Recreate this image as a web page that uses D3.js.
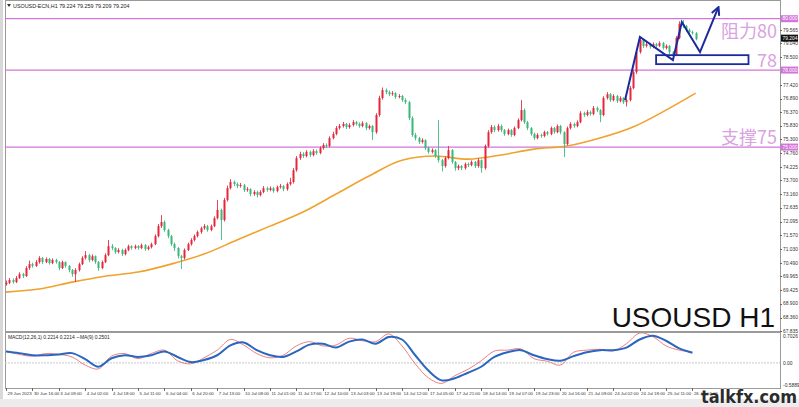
<!DOCTYPE html>
<html><head><meta charset="utf-8">
<script src="https://cdn.jsdelivr.net/npm/d3@7"></script>
<style>body{margin:0;background:#fff}svg{display:block}</style>
</head><body><svg id="c" width="799" height="407"></svg>
<script>
// ---------------- DATA ----------------
const firstOpen = 69.66;
const closes = [69.71,69.82,69.74,69.90,70.05,69.98,70.29,70.44,70.37,70.52,
70.68,70.52,70.64,70.48,70.60,70.52,70.29,70.52,70.37,70.21,
70.05,70.21,70.44,70.68,70.79,70.60,70.75,70.52,70.29,70.52,
70.79,71.14,71.07,70.91,70.99,70.83,70.99,71.14,71.07,71.14,
71.07,71.18,71.03,71.10,71.22,71.53,71.92,72.08,71.77,71.53,
71.22,71.07,70.75,70.68,70.99,71.22,71.38,71.53,71.69,71.84,
71.92,71.77,71.92,72.23,72.55,72.16,72.94,73.40,73.64,73.56,
73.48,73.52,73.33,73.36,73.17,73.25,73.13,73.25,73.40,73.33,
73.40,73.29,73.44,73.48,73.36,73.56,73.64,74.10,74.57,74.73,
74.65,74.81,74.69,74.84,74.77,74.96,75.08,75.04,75.35,75.51,
75.74,75.82,75.90,75.78,75.86,75.97,75.90,75.82,75.93,75.74,
75.82,75.58,76.25,76.91,77.22,77.14,77.06,77.10,76.95,76.99,
76.83,76.75,76.13,75.47,75.35,75.20,75.27,74.96,74.81,74.88,
74.65,74.49,74.26,74.57,74.88,74.42,74.18,74.26,74.18,74.34,
74.30,74.42,74.26,74.49,74.18,75.04,75.58,75.78,75.66,75.82,
75.66,75.51,75.66,75.47,75.74,76.05,76.44,75.97,75.74,75.51,
75.35,75.47,75.43,75.58,75.51,75.74,75.58,75.82,75.58,75.12,
75.74,75.90,75.82,75.97,76.32,76.25,76.36,76.29,76.52,76.44,
76.25,76.91,77.06,76.83,76.99,76.79,76.91,76.75,76.83,77.30,
77.92,78.70,79.17,78.94,79.01,78.90,79.01,78.94,79.05,78.86,
78.94,78.70,78.55,79.25,79.79,79.71,79.56,79.48,79.44,79.20];
const highs = [69.80,69.90,69.88,69.98,70.12,70.10,70.36,70.58,70.50,70.60,
70.75,70.72,70.70,70.68,70.66,70.65,70.56,70.58,70.55,70.40,
70.25,70.28,70.50,70.75,70.95,70.84,70.82,70.78,70.56,70.58,
70.86,71.38,71.22,71.10,71.06,71.04,71.05,71.20,71.18,71.20,
71.18,71.24,71.22,71.16,71.28,71.60,72.00,72.35,72.14,71.82,
71.58,71.28,71.10,70.80,71.05,71.28,71.45,71.60,71.75,71.90,
72.00,71.97,71.98,72.30,72.94,72.60,73.02,73.50,73.75,73.70,
73.62,73.60,73.56,73.44,73.40,73.32,73.30,73.32,73.48,73.46,
73.47,73.45,73.50,73.56,73.52,73.62,73.80,74.18,74.65,74.82,
74.80,74.88,74.86,74.92,74.90,75.03,75.15,75.14,75.42,75.60,
75.82,75.90,75.98,75.94,75.93,76.05,76.02,75.96,76.00,75.98,
75.88,75.86,76.32,77.00,77.32,77.28,77.20,77.18,77.14,77.06,
77.03,76.90,76.80,76.20,75.55,75.40,75.34,75.30,75.02,74.95,
74.92,76.05,74.54,74.64,75.04,74.92,74.46,74.32,74.30,74.40,
74.40,74.48,74.46,74.56,74.52,75.10,75.66,75.86,75.84,75.90,
75.88,75.70,75.72,75.70,75.80,76.12,76.83,76.50,76.02,75.78,
75.56,75.54,75.52,75.64,75.63,75.80,75.78,75.88,75.86,75.62,
75.80,75.97,75.95,76.04,76.40,76.38,76.44,76.42,76.60,76.58,
76.48,76.98,77.14,77.10,77.06,77.03,76.98,76.95,76.90,77.38,
78.00,78.80,79.26,79.20,79.10,79.06,79.08,79.06,79.12,79.09,
79.00,78.98,78.74,79.32,79.90,79.95,79.76,79.62,79.54,79.48];
const lows = [69.60,69.66,69.68,69.70,69.86,69.90,69.94,70.22,70.30,70.33,
70.46,70.45,70.48,70.42,70.44,70.46,70.20,70.25,70.30,70.12,
69.95,69.75,70.15,70.40,70.62,70.52,70.55,70.45,70.18,70.24,
70.48,70.75,70.98,70.84,70.86,70.76,70.78,70.94,71.00,71.02,
71.00,71.02,70.96,70.98,71.05,71.18,71.48,71.85,71.70,71.45,
71.15,70.95,70.66,70.25,70.62,70.95,71.16,71.32,71.48,71.62,
71.78,71.70,71.72,71.88,72.18,71.38,72.10,72.88,73.35,73.48,
73.40,73.42,73.25,73.26,73.08,73.10,73.04,73.08,73.20,73.26,
73.28,73.22,73.24,73.38,73.28,73.30,73.50,73.58,74.04,74.50,
74.58,74.60,74.62,74.64,74.70,74.72,74.90,74.96,74.99,75.30,
75.46,75.68,75.76,75.70,75.72,75.80,75.84,75.75,75.77,75.66,
75.68,75.27,75.52,76.18,76.85,77.06,76.98,77.00,76.88,76.90,
76.76,76.68,76.05,75.40,75.26,75.12,75.14,74.88,74.74,74.75,
74.58,74.40,74.05,74.20,74.52,74.35,74.08,74.10,74.10,74.12,
74.22,74.25,74.18,74.20,74.00,74.12,74.98,75.52,75.58,75.60,
75.58,75.44,75.46,75.40,75.42,75.70,76.00,75.90,75.66,75.44,
75.28,75.30,75.36,75.38,75.45,75.46,75.52,75.54,75.50,74.61,
75.06,75.68,75.75,75.77,75.92,76.18,76.20,76.22,76.24,76.36,
75.97,76.20,76.85,76.76,76.78,76.72,76.74,76.68,76.58,76.78,
77.25,77.85,78.64,78.86,78.88,78.83,78.85,78.88,78.90,78.80,
78.80,78.62,78.40,78.50,79.20,79.64,79.48,79.42,79.38,79.16];

const maIndex  = [0,10,20,30,40,50,60,70,80,90,100,110,120,130,140,150,160,170,180,190,200,209];
const maValues = [69.35,69.47,69.74,69.97,70.13,70.44,70.83,71.38,71.92,72.47,73.17,73.87,74.49,74.65,74.53,74.69,74.92,75.04,75.35,75.78,76.44,77.10];

const macdStep = 4;
const macdMain = [0.27,0.23,0.18,0.18,0.20,0.23,0.09,-0.09,0.11,0.18,0.14,0.18,0.27,0.14,0.02,0.07,0.18,0.41,0.48,0.30,0.18,0.14,0.27,0.43,0.45,0.36,0.50,0.55,0.45,0.61,0.55,0.18,-0.18,-0.41,-0.36,-0.23,-0.09,0.14,0.25,0.30,0.18,0.09,0.05,0.16,0.25,0.30,0.30,0.36,0.55,0.64,0.52,0.34,0.24];
const macdSignal = [0.28,0.20,0.16,0.22,0.20,0.14,-0.05,-0.14,0.16,0.22,0.10,0.22,0.30,0.05,-0.02,0.12,0.30,0.55,0.42,0.22,0.12,0.18,0.40,0.50,0.40,0.42,0.58,0.52,0.50,0.68,0.40,-0.02,-0.35,-0.48,-0.30,-0.15,0.05,0.28,0.30,0.33,0.10,0.04,-0.05,0.25,0.30,0.32,0.28,0.45,0.70,0.62,0.40,0.30,0.25];

const timeLabelStep = 8;
const timeLabels = ["29 Jun 2023","30 Jun 16:00","3 Jul 09:00","4 Jul 02:00","4 Jul 18:00","5 Jul 11:00","6 Jul 04:00","6 Jul 20:00","7 Jul 13:00","10 Jul 08:00","11 Jul 01:00","11 Jul 17:00","12 Jul 10:00","13 Jul 03:00","13 Jul 19:00","14 Jul 12:00","17 Jul 05:00","17 Jul 21:00","18 Jul 14:00","19 Jul 07:00","19 Jul 23:00","20 Jul 16:00","21 Jul 09:00","24 Jul 02:00","24 Jul 18:00","25 Jul 11:00","26 Jul 04:00"];

const priceTicks = [79.565,79.040,78.500,77.420,76.890,76.370,75.830,75.300,74.760,74.225,73.700,73.160,72.635,72.095,71.570,71.030,70.490,69.965,69.425,68.900,68.360,67.835];
const macdTicks = [0.7026, 0.00, -0.5889];
const macdTickLabels = ["0.7026","0.00","-0.5889"];

const levels = [80.0, 78.0, 75.0];
const levelTags = ["80.000","78.000","75.000"];
const levelTexts = ["阻力80","78","支撑75"];
const lastPrice = 79.204;

// blue hand-drawn forecast path (bar index, price)
const arrowIdx = [187.6,192.1,202.1,204.8,210.3,215.8];
const arrowPrice = [76.83,79.29,78.39,79.87,78.70,80.42];
const boxIdx = [197, 225];
const boxPrice = [78.58, 78.23];

// ---------------- LAYOUT ----------------
const svg = d3.select("#c");
const L = 5, R = 780, T = 1, MB = 331, MT = 333, B = 388;
const x = d3.scaleLinear().domain([0, closes.length - 1]).range([6, 695.7]);
const y = d3.scaleLinear().domain([67.835, 80.69]).range([MB, T]);
const ym = d3.scaleLinear().domain([-0.5889, 0.7026]).range([B, MT]);

const UP = "#e5263a", DN = "#38b878", PINK = "#d276da", LAV = "#d9a2e0", BLUE = "#1c2a9c";
const AXF = "'Liberation Sans',Arial,sans-serif";
const FS = 4.9;

svg.append("rect").attr("x",0).attr("y",0).attr("width",799).attr("height",407).attr("fill","#fff");
svg.append("rect").attr("x",0).attr("y",0).attr("width",3).attr("height",399).attr("fill","#d8d8d8");
svg.append("rect").attr("x",0).attr("y",399).attr("width",799).attr("height",8).attr("fill","#ececec");

svg.append("clipPath").attr("id","mainclip").append("rect").attr("x",L).attr("y",T).attr("width",R-L).attr("height",MB-T);
svg.append("clipPath").attr("id","macdclip").append("rect").attr("x",L).attr("y",MT).attr("width",R-L).attr("height",B-MT);

svg.append("rect").attr("x",L+0.5).attr("y",T-0.5).attr("width",R-L).attr("height",B-T+1).attr("fill","none").attr("stroke","#9a9a9a");
svg.append("line").attr("x1",L).attr("x2",R).attr("y1",MB+0.5).attr("y2",MB+0.5).attr("stroke","#9a9a9a");
svg.append("line").attr("x1",L).attr("x2",R).attr("y1",MT-0.5).attr("y2",MT-0.5).attr("stroke","#9a9a9a");

const main = svg.append("g").attr("clip-path","url(#mainclip)");

main.selectAll("line.lvl").data(levels).join("line").attr("class","lvl")
  .attr("x1",L).attr("x2",R).attr("y1",d=>y(d)).attr("y2",d=>y(d))
  .attr("stroke",PINK).attr("stroke-width",1.2);

main.append("path").datum(maIndex.map((d,i)=>[d,maValues[i]]))
  .attr("fill","none").attr("stroke","#f0a22c").attr("stroke-width",1.6)
  .attr("d", d3.line().x(d=>x(d[0])).y(d=>y(d[1])).curve(d3.curveMonotoneX));

const bars = closes.map((c,i)=>{
  const o = i===0 ? firstOpen : closes[i-1];
  return {i, o, c, h: Math.max(highs[i], o, c), l: Math.min(lows[i], o, c)};
});
const cg = main.append("g");
cg.selectAll("line.wick").data(bars).join("line").attr("class","wick")
  .attr("x1",d=>Math.round(x(d.i))+0.5).attr("x2",d=>Math.round(x(d.i))+0.5)
  .attr("y1",d=>y(d.h)).attr("y2",d=>y(d.l))
  .attr("stroke",d=>d.c>=d.o?UP:DN).attr("stroke-width",1).attr("opacity",0.85);
cg.selectAll("rect.body").data(bars).join("rect").attr("class","body")
  .attr("x",d=>Math.round(x(d.i))-0.5).attr("width",2)
  .attr("y",d=>y(Math.max(d.o,d.c)))
  .attr("height",d=>Math.max(1, Math.abs(y(d.o)-y(d.c))))
  .attr("fill",d=>d.c>=d.o?UP:DN);

const defs = svg.append("defs");
defs.append("marker").attr("id","ah").attr("viewBox","0 0 10 10").attr("refX",8).attr("refY",5)
  .attr("markerWidth",5).attr("markerHeight",5).attr("orient","auto")
  .append("path").attr("d","M1,1 L9,5 L1,9").attr("fill","none").attr("stroke",BLUE).attr("stroke-width",2);
svg.append("rect")
  .attr("x",x(boxIdx[0])).attr("y",y(boxPrice[0]))
  .attr("width",x(boxIdx[1])-x(boxIdx[0])).attr("height",y(boxPrice[1])-y(boxPrice[0]))
  .attr("fill","#fff").attr("fill-opacity",0.9).attr("stroke",BLUE).attr("stroke-width",1.8);
svg.append("path").datum(arrowIdx.map((d,i)=>[d,arrowPrice[i]]))
  .attr("fill","none").attr("stroke",BLUE).attr("stroke-width",2).attr("stroke-linejoin","miter")
  .attr("marker-end","url(#ah)")
  .attr("d", d3.line().x(d=>x(d[0])).y(d=>y(d[1])));

const textDy = [19, -3, -3];
svg.selectAll("text.lvltxt").data(levels).join("text").attr("class","lvltxt")
  .attr("x",777).attr("y",(d,i)=>y(d)+textDy[i])
  .attr("text-anchor","end").attr("fill",LAV)
  .attr("font-family","'Noto Sans CJK SC','Noto Sans',sans-serif").attr("font-size",18)
  .text((d,i)=>levelTexts[i]);

svg.append("text").attr("x",775).attr("y",327).attr("text-anchor","end")
  .attr("font-family",AXF).attr("font-size",28).attr("fill","#111")
  .text("USOUSD H1");

svg.append("path").attr("d","M7,4 L11,4 L9,7 Z").attr("fill","#333");
svg.append("text").attr("x",13).attr("y",8).attr("font-family",AXF)
  .attr("font-size",5.4).attr("fill","#222").text("USOUSD-ECN,H1  79.224 79.259 79.209 79.204");

const ax = svg.append("g").attr("font-family",AXF).attr("font-size",FS).attr("fill","#333");
ax.selectAll("line.pt").data(priceTicks).join("line").attr("class","pt")
  .attr("x1",R).attr("x2",R+2).attr("y1",d=>Math.round(y(d))+0.5).attr("y2",d=>Math.round(y(d))+0.5).attr("stroke","#666");
ax.selectAll("text.pt").data(priceTicks).join("text").attr("class","pt")
  .attr("x",R+3).attr("y",d=>y(d)+1.7).text(d=>d.toFixed(3));

const tags = svg.append("g");
levels.forEach((v,i)=>{
  tags.append("rect").attr("x",R+1).attr("y",y(v)-3.5).attr("width",17).attr("height",7).attr("fill",PINK);
  tags.append("text").attr("x",R+2.5).attr("y",y(v)+1.7).attr("font-family",AXF)
    .attr("font-size",FS).attr("fill","#fff").text(levelTags[i]);
});
tags.append("rect").attr("x",R+1).attr("y",y(lastPrice)-4.5).attr("width",17).attr("height",7).attr("fill","#111");
tags.append("text").attr("x",R+2.5).attr("y",y(lastPrice)+0.7).attr("font-family",AXF)
  .attr("font-size",FS).attr("fill","#fff").text(lastPrice.toFixed(3));

const mg = svg.append("g").attr("clip-path","url(#macdclip)");
mg.append("line").attr("x1",L).attr("x2",R).attr("y1",ym(0)).attr("y2",ym(0)).attr("stroke","#c8c8c8").attr("stroke-dasharray","2,1");
const mline = d3.line().x((d,i)=>x(i*macdStep)).y(d=>ym(d)).curve(d3.curveCatmullRom);
mg.append("path").datum(macdSignal).attr("fill","none").attr("stroke","#e87070").attr("stroke-width",0.9).attr("d",mline);
mg.append("path").datum(macdMain).attr("fill","none").attr("stroke","#2a66c0").attr("stroke-width",2).attr("d",mline);
svg.append("text").attr("x",8).attr("y",339).attr("font-family",AXF)
  .attr("font-size",FS).attr("fill","#222").text("MACD(12,26,1) 0.2214 0.2214  ∽MA(9) 0.2501");
ax.selectAll("text.mt").data(macdTicks).join("text").attr("class","mt")
  .attr("x",R+3).attr("y",(d,i)=> i===0 ? ym(d)+5 : (i===2 ? ym(d)-1 : ym(d)+1.7)).text((d,i)=>macdTickLabels[i]);

const tg = svg.append("g").attr("font-family",AXF).attr("font-size",4.4).attr("fill","#333");
tg.selectAll("line").data(timeLabels).join("line")
  .attr("x1",(d,i)=>Math.round(x(i*timeLabelStep))+0.5).attr("x2",(d,i)=>Math.round(x(i*timeLabelStep))+0.5)
  .attr("y1",B).attr("y2",B+3).attr("stroke","#666");
tg.selectAll("text").data(timeLabels).join("text")
  .attr("x",(d,i)=>x(i*timeLabelStep)+1.5).attr("y",394.5).text(d=>d);

svg.append("text").attr("x",797).attr("y",403).attr("text-anchor","end")
  .attr("font-family","'DejaVu Sans',sans-serif").attr("font-weight","bold").attr("font-size",17)
  .attr("fill","#2c2c2c").attr("stroke","#fff").attr("stroke-width",0.6).attr("paint-order","stroke")
  .attr("textLength",96).attr("lengthAdjust","spacingAndGlyphs").text("talkfx.com");
</script></body></html>
